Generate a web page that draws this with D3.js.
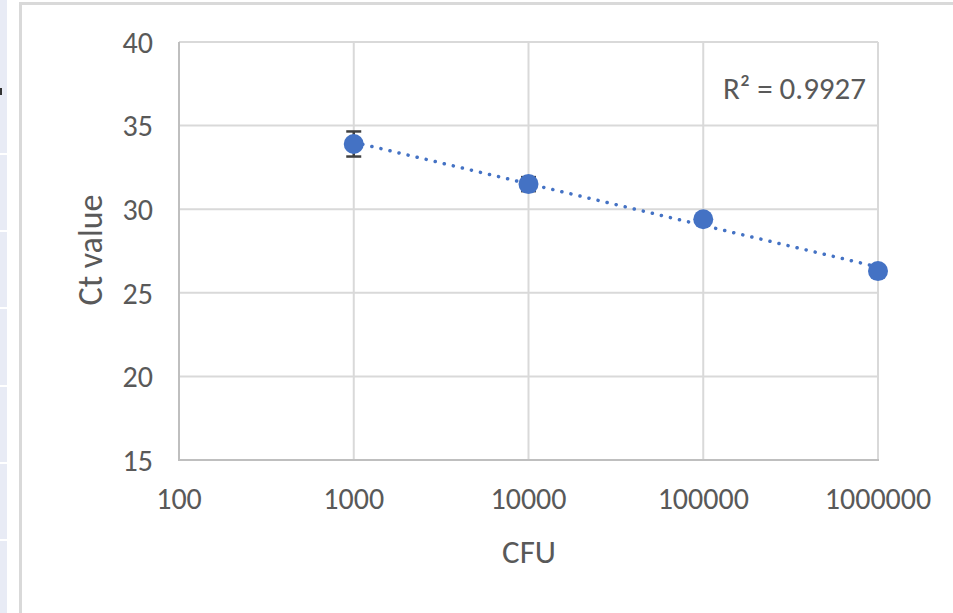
<!DOCTYPE html>
<html><head><meta charset="utf-8">
<script src="https://cdn.jsdelivr.net/npm/d3@7/dist/d3.min.js"></script>
<style>body{margin:0;background:#fff;overflow:hidden}</style>
</head><body>
<script>
const cfu = [1000, 10000, 100000, 1000000];
const ctValues = [33.9, 31.5, 29.4, 26.3];
const ctErrors = [0.75, 0.42, 0, 0];
const xTicks = [100, 1000, 10000, 100000, 1000000];
const yTicks = [15, 20, 25, 30, 35, 40];
const r2Label = "R\u00B2 = 0.9927";
const xTitle = "CFU";
const yTitle = "Ct value";

const W = 953, H = 613;
const font = "Carlito, Calibri, 'Liberation Sans', sans-serif";
const svg = d3.select("body").append("svg").attr("width", W).attr("height", H);

// spreadsheet strip at left
svg.append("rect").attr("x", 0).attr("y", 0).attr("width", 7).attr("height", H).attr("fill", "#e8ebf5");
[153, 230, 307, 385, 462, 539].forEach(y => svg.append("rect").attr("x", 0).attr("y", y).attr("width", 7).attr("height", 2).attr("fill", "#ffffff"));
svg.append("rect").attr("x", 0).attr("y", 88).attr("width", 2).attr("height", 7).attr("fill", "#333");
// chart border
svg.append("rect").attr("x", 19).attr("y", 2).attr("width", 3).attr("height", H).attr("fill", "#d9d9d9");
svg.append("rect").attr("x", 19).attr("y", 2).attr("width", W).attr("height", 3).attr("fill", "#d9d9d9");

const x = d3.scaleLog().domain([100, 1000000]).range([179, 878]);
const y = d3.scaleLinear().domain([15, 40]).range([460, 42]);

const g = svg.append("g");
// gridlines
g.selectAll(".hg").data(yTicks.filter(v => v > 15)).join("line")
  .attr("x1", x(100)).attr("x2", x(1000000)).attr("y1", d => y(d)).attr("y2", d => y(d))
  .attr("stroke", "#d9d9d9").attr("stroke-width", 2);
g.selectAll(".vg").data(xTicks.filter(v => v > 100)).join("line")
  .attr("x1", d => x(d)).attr("x2", d => x(d)).attr("y1", y(40)).attr("y2", y(15))
  .attr("stroke", "#d9d9d9").attr("stroke-width", 2);
// axes lines
g.append("line").attr("x1", x(100)).attr("x2", x(100)).attr("y1", y(40)).attr("y2", y(15)).attr("stroke", "#bfbfbf").attr("stroke-width", 2);
g.append("line").attr("x1", x(100) - 1).attr("x2", x(1000000) + 1).attr("y1", y(15)).attr("y2", y(15)).attr("stroke", "#bfbfbf").attr("stroke-width", 2);

// tick labels
g.selectAll(".yt").data(yTicks).join("text")
  .attr("x", 153).attr("y", d => y(d)).attr("dy", "0.36em").attr("text-anchor", "end")
  .attr("font-family", font).attr("font-size", 30).attr("fill", "#595959").text(d => d);
g.selectAll(".xt").data(xTicks).join("text")
  .attr("x", d => x(d)).attr("y", 498).attr("dy", "0.36em").attr("text-anchor", "middle")
  .attr("font-family", font).attr("font-size", 30).attr("fill", "#595959").text(d => d);

// titles
g.append("text").attr("x", 529).attr("y", 551).attr("dy", "0.36em").attr("text-anchor", "middle")
  .attr("font-family", font).attr("font-size", 33).attr("fill", "#595959").text(xTitle);
g.append("text").attr("transform", "translate(90,250) rotate(-90)").attr("dy", "0.36em").attr("text-anchor", "middle")
  .attr("font-family", font).attr("font-size", 34).attr("fill", "#595959").text(yTitle);

// linear trendline on log10(x)
const lx = cfu.map(v => Math.log10(v));
const mx = d3.mean(lx), my = d3.mean(ctValues);
const slope = d3.sum(lx.map((v, i) => (v - mx) * (ctValues[i] - my))) / d3.sum(lx.map(v => (v - mx) ** 2));
const icpt = my - slope * mx;
const ends = [cfu[0], cfu[cfu.length - 1]];
g.append("line")
  .attr("x1", x(ends[0])).attr("y1", y(icpt + slope * Math.log10(ends[0])))
  .attr("x2", x(ends[1])).attr("y2", y(icpt + slope * Math.log10(ends[1])))
  .attr("stroke", "#4472c4").attr("stroke-width", 3.5).attr("stroke-linecap", "round").attr("stroke-dasharray", "0.1 9.2");

// error bars
const eb = g.selectAll(".eb").data(cfu.map((c, i) => ({c, v: ctValues[i], e: ctErrors[i]})).filter(d => d.e > 0)).join("g");
eb.append("line").attr("x1", d => x(d.c)).attr("x2", d => x(d.c)).attr("y1", d => y(d.v + d.e)).attr("y2", d => y(d.v - d.e)).attr("stroke", "#404040").attr("stroke-width", 2.5);
eb.append("line").attr("x1", d => x(d.c) - 7.5).attr("x2", d => x(d.c) + 7.5).attr("y1", d => y(d.v + d.e)).attr("y2", d => y(d.v + d.e)).attr("stroke", "#404040").attr("stroke-width", 2.5);
eb.append("line").attr("x1", d => x(d.c) - 7.5).attr("x2", d => x(d.c) + 7.5).attr("y1", d => y(d.v - d.e)).attr("y2", d => y(d.v - d.e)).attr("stroke", "#404040").attr("stroke-width", 2.5);

// markers
g.selectAll(".pt").data(cfu.map((c, i) => ({c, v: ctValues[i]}))).join("circle")
  .attr("cx", d => x(d.c)).attr("cy", d => y(d.v)).attr("r", 10).attr("fill", "#4472c4");

// R² label
g.append("text").attr("x", 866).attr("y", 88).attr("dy", "0.36em").attr("text-anchor", "end")
  .attr("font-family", font).attr("font-size", 31).attr("fill", "#595959").text(r2Label);
</script>
</body></html>
